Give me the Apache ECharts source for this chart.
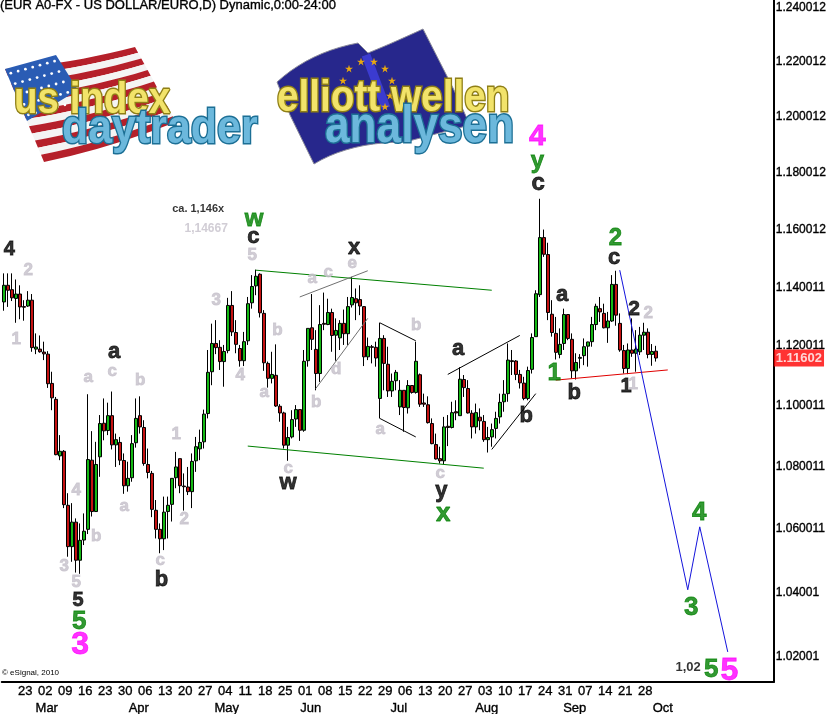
<!DOCTYPE html>
<html><head><meta charset="utf-8">
<style>html,body{margin:0;padding:0;background:#fff}#c{width:830px;height:714px}</style>
<script src="https://cdn.jsdelivr.net/npm/echarts@6/dist/echarts.min.js"></script>
</head><body><div id="c"></div>
<script>
const opens=[1.1350,1.1407,1.1392,1.1362,1.1377,1.1334,1.1336,1.1356,1.1190,1.1190,
1.1180,1.1173,1.1075,1.1022,1.0836,1.0851,1.0676,1.0544,1.0622,1.0501,
1.0565,1.0599,1.0822,1.0656,1.0833,1.0943,1.0919,1.0968,1.0872,1.0880,
1.0821,1.0739,1.0765,1.0879,1.0968,1.0929,1.0808,1.0779,1.0660,1.0599,
1.0569,1.0656,1.0679,1.0765,1.0827,1.0738,1.0735,1.0720,1.0820,1.0859,
1.0882,1.0975,1.1114,1.1209,1.1196,1.1148,1.1185,1.1338,1.1246,1.1192,
1.1151,1.1218,1.1347,1.1405,1.1445,1.1311,1.1142,1.1092,1.1102,1.0999,
1.0977,1.0871,1.0898,1.0957,1.0988,1.0920,1.1151,1.1262,1.1189,1.1108,
1.1277,1.1273,1.1314,1.1237,1.1228,1.1277,1.1242,1.1340,1.1361,1.1358,
1.1334,1.1164,1.1198,1.1196,1.1025,1.1226,1.1139,1.1050,1.1084,1.0997,
1.1052,1.0994,1.1068,1.1045,1.1104,1.1010,1.1004,1.0942,1.0873,1.0827,
1.0820,1.0933,1.0929,1.0981,1.0968,1.1088,1.1058,1.0976,1.0931,1.0963,
1.0949,1.0889,1.0898,1.0926,1.0964,1.1014,1.1041,1.1151,1.1150,1.1105,
1.1076,1.1025,1.1122,1.1232,1.1375,1.1572,1.1513,1.1308,1.1243,1.1172,
1.1209,1.1307,1.1223,1.1117,1.1159,1.1168,1.1200,1.1215,1.1273,1.1327,
1.1311,1.1262,1.1285,1.1410,1.1277,1.1185,1.1125,1.1187,1.1176,1.1181,
1.1237,1.1247,1.1172,1.1183];
const closes=[1.1407,1.1390,1.1364,1.1377,1.1333,1.1332,1.1356,1.1195,1.1197,1.1181,
1.1174,1.1074,1.1027,1.0840,1.0851,1.0678,1.0544,1.0622,1.0501,1.0564,
1.0593,1.0824,1.0656,1.0808,1.0942,1.0918,1.0968,1.0872,1.0889,1.0822,
1.0739,1.0763,1.0876,1.0959,1.0931,1.0811,1.0782,1.0663,1.0599,1.0569,
1.0654,1.0676,1.0763,1.0800,1.0739,1.0736,1.0720,1.0818,1.0866,1.0880,
1.0973,1.1112,1.1209,1.1195,1.1148,1.1182,1.1338,1.1248,1.1206,1.1151,
1.1215,1.1344,1.1403,1.1438,1.1313,1.1144,1.1092,1.1105,1.1000,1.0977,
1.0871,1.0896,1.0955,1.0988,1.0920,1.1149,1.1260,1.1223,1.1108,1.1273,
1.1274,1.1314,1.1236,1.1253,1.1277,1.1242,1.1334,1.1365,1.1347,1.1336,
1.1164,1.1199,1.1196,1.1160,1.1226,1.1142,1.1050,1.1082,1.1112,1.1052,
1.0995,1.1068,1.1045,1.1149,1.1006,1.1006,1.0945,1.0876,1.0826,1.0820,
1.0931,1.0929,1.0978,1.0977,1.1089,1.1061,1.0977,1.0931,1.0978,1.0951,
1.0889,1.0896,1.0922,1.0959,1.1012,1.1039,1.1153,1.1148,1.1105,1.1077,
1.1025,1.1118,1.1229,1.1378,1.1572,1.1514,1.1314,1.1246,1.1179,1.1206,
1.1307,1.1226,1.1117,1.1145,1.1162,1.1198,1.1214,1.1273,1.1335,1.1316,
1.1262,1.1285,1.1410,1.1305,1.1187,1.1125,1.1187,1.1176,1.1190,1.1237,
1.1247,1.1172,1.1182,1.1160];
const lows=[1.1320,1.1333,1.1353,1.1279,1.1291,1.1286,1.1333,1.1181,1.1173,1.1178,
1.1153,1.1060,1.0986,1.0838,1.0822,1.0667,1.0512,1.0496,1.0462,1.0458,
1.0549,1.0584,1.0640,1.0656,1.0768,1.0887,1.0904,1.0857,1.0800,1.0806,
1.0713,1.0720,1.0752,1.0863,1.0909,1.0804,1.0763,1.0638,1.0570,1.0523,
1.0533,1.0570,1.0624,1.0731,1.0715,1.0659,1.0709,1.0667,1.0784,1.0822,
1.0860,1.0959,1.1069,1.1173,1.1120,1.1064,1.1176,1.1234,1.1176,1.1131,
1.1133,1.1204,1.1327,1.1373,1.1297,1.1117,1.1061,1.1075,1.0997,1.0948,
1.0860,1.0820,1.0893,1.0931,1.0885,1.0915,1.1131,1.1187,1.1052,1.1080,
1.1254,1.1271,1.1181,1.1151,1.1187,1.1204,1.1204,1.1331,1.1288,1.1305,
1.1133,1.1153,1.1142,1.1131,1.0959,1.1052,1.1030,1.1030,1.1052,1.0970,
1.0915,1.0975,1.1041,1.1041,1.0997,1.0997,1.0942,1.0874,1.0824,1.0811,
1.0808,1.0868,1.0926,1.0953,1.0968,1.1030,1.0975,1.0893,1.0909,1.0920,
1.0882,1.0847,1.0866,1.0893,1.0942,1.0981,1.1014,1.1103,1.1086,1.1058,
1.1019,1.1019,1.1108,1.1232,1.1367,1.1505,1.1288,1.1232,1.1155,1.1159,
1.1187,1.1220,1.1092,1.1088,1.1125,1.1136,1.1131,1.1198,1.1254,1.1282,
1.1260,1.1211,1.1282,1.1269,1.1181,1.1108,1.1106,1.1164,1.1114,1.1170,
1.1187,1.1159,1.1134,1.1148];
const highs=[1.1448,1.1448,1.1448,1.1427,1.1407,1.1356,1.1387,1.1377,1.1243,1.1236,
1.1215,1.1183,1.1114,1.1030,1.0904,1.0855,1.0715,1.0683,1.0634,1.0618,
1.0650,1.1039,1.0917,1.0882,1.0970,1.1025,1.1011,1.1048,1.0909,1.0898,
1.0844,1.0817,1.0904,1.1025,1.1032,1.0953,1.0860,1.0787,1.0693,1.0618,
1.0704,1.0704,1.0763,1.0849,1.0827,1.0779,1.0800,1.0844,1.0898,1.0922,
1.0988,1.1187,1.1276,1.1288,1.1220,1.1204,1.1364,1.1387,1.1288,1.1204,
1.1248,1.1367,1.1442,1.1461,1.1448,1.1322,1.1148,1.1181,1.1206,1.1006,
1.0981,1.0931,1.0986,1.1003,1.0988,1.1187,1.1260,1.1377,1.1254,1.1339,
1.1382,1.1361,1.1327,1.1294,1.1288,1.1324,1.1367,1.1436,1.1396,1.1407,
1.1336,1.1229,1.1204,1.1215,1.1279,1.1237,1.1198,1.1108,1.1120,1.1086,
1.1052,1.1086,1.1069,1.1215,1.1108,1.1041,1.1032,1.0959,1.0909,1.0866,
1.0964,1.0970,1.1014,1.1019,1.1129,1.1103,1.1086,1.0986,1.1008,1.0992,
1.0970,1.0931,1.0942,1.0981,1.1041,1.1086,1.1209,1.1187,1.1153,1.1120,
1.1097,1.1131,1.1243,1.1390,1.1708,1.1600,1.1554,1.1356,1.1299,1.1260,
1.1327,1.1307,1.1243,1.1176,1.1173,1.1226,1.1215,1.1299,1.1344,1.1367,
1.1344,1.1316,1.1442,1.1457,1.1311,1.1204,1.1209,1.1294,1.1254,1.1265,
1.1279,1.1260,1.1207,1.1201];

const yTickLabels=['1.240012','1.220012','1.200012','1.180012','1.160012','1.140011','1.120011','1.100011','1.080011','1.060011','1.04001','1.02001'];
const weekLabels=['23','02','09','16','23','30','06','13','20','27','04','11','18','25','01','08','15','22','29','06','13','20','27','03','10','17','24','31','07','14','21','28'];
const monthLabels=['Mar','Apr','May','Jun','Jul','Aug','Sep','Oct'];
const monthStartIdx=[9,32,54,75,97,119,141,163];
const firstWeekIdx=5, slotCount=193, priceMin=1.0123, priceMax=1.24299, lastPrice='1.11602';

// trend lines: [day index, price]
const greenLines=[[[63,1.1459],[122,1.1390]],[[61,1.0868],[120,1.0796]]];
const greyLines=[[[74,1.1367],[91,1.1457]],[[78,1.1058],[91,1.1294]]];
const blackLines=[[[94,1.1279],[103,1.1218]],[[94,1.0959],[103,1.0898]],[[111,1.1105],[129,1.1236]],[[122,1.0857],[133,1.1041]]];
const redLines=[[[138,1.1086],[166,1.1120]]];
const blueForecast=[[[154,1.1459],[171,1.0408],[174,1.0607],[181,1.0215]]];

// wave labels: [text, day index, price, font size]
const blackLabels=[['4',1.4,1.1532,20],['a',27.6,1.1180,22],['5',18.6,1.0373,20],['b',39.4,1.0439,22],['c',62.4,1.1574,22],['w',71.1,1.0748,22],['x',87.6,1.1536,22],['a',113.6,1.1190,22],['y',109.4,1.0722,22],['b',130.6,1.0966,22],['c',133.6,1.1764,24],['a',139.6,1.1373,22],['b',142.6,1.1042,22],['c',152.6,1.1501,22],['2',157.6,1.1325,21],['1',155.6,1.1066,20],['ca. 1,146x',48.6,1.1672,11],['1,02',171.1,1.0169,13]];
const greyLabels=[['2',6.1,1.1459,17],['1',3.1,1.1224,17],['a',21.1,1.1096,17],['c',27.1,1.1116,17],['b',34.1,1.1086,17],['4',18.1,1.0725,17],['a',30.1,1.0674,17],['b',23.1,1.0578,17],['3',15.1,1.0483,17],['5',18.1,1.0430,17],['c',39.1,1.0502,17],['1',43.1,1.0907,17],['2',45.1,1.0632,17],['3',53.1,1.1356,17],['4',59.1,1.1103,17],['a',65.1,1.1046,17],['b',68.4,1.1254,17],['5',62.1,1.1512,17],['c',71.1,1.0796,17],['a',77.1,1.1431,17],['c',81.1,1.1452,17],['e',87.1,1.1484,17],['d',83.1,1.1123,17],['b',78.1,1.1012,17],['b',103.1,1.1271,17],['a',94.1,1.0923,17],['c',109.1,1.0780,17],['2',161.1,1.1311,17],['1',157.4,1.1073,17],['1,14667',50.6,1.1602,12]];
const greenLabels=[['w',62.6,1.1637,24],['5',18.9,1.0308,26],['x',109.9,1.0648,26],['y',133.4,1.1842,24],['1',137.6,1.1110,24],['2',152.9,1.1570,24],['4',173.9,1.0652,26],['3',171.9,1.0352,26],['5',176.9,1.0161,26]];
const magentaLabels=[['3',19.1,1.0237,32],['4',133.4,1.1928,30],['5',181.4,1.0157,32]];

const categories=[];
{let d=new Date(Date.UTC(2010,1,16));
 while(categories.length<slotCount){const w=d.getUTCDay();if(w>0&&w<6)categories.push(d.toISOString().slice(0,10));d=new Date(d.getTime()+864e5);}}
const candles=opens.map((o,i)=>[o,closes[i],lows[i],highs[i]]);
const SANS='"Liberation Sans",Arial,sans-serif';

function lineSeries(list,color,width){return list.map(pts=>({type:'line',xAxisIndex:2,data:pts,symbol:'none',silent:true,clip:false,z:4,lineStyle:{color,width},animation:false}));}
function labelSeries(list,color){return {type:'scatter',xAxisIndex:2,symbolSize:0,silent:true,clip:false,z:6,
 data:list.map(r=>({value:[r[1],r[2]],label:{show:true,position:'inside',formatter:r[0],fontSize:r[3],color,fontWeight:'bold',fontFamily:SANS,
   textBorderColor:color,textBorderWidth:r[3]>14?0.8:0}}))};}

// logos
const logo=[];
function curve(p,c,q){const o=[];for(let t=0;t<=1.0001;t+=.1){const u=1-t;o.push([u*u*p[0]+2*u*t*c[0]+t*t*q[0],u*u*p[1]+2*u*t*c[1]+t*t*q[1]]);}return o;}
for(let k=0;k<13;k++){
 const L=t=>[5+39*t,69+93*t],R=t=>[135+41*t,47+75*t],a=k/13,b=(k+1)/13;
 const l0=L(a),r0=R(a),l1=L(b),r1=R(b);
 const top=curve(l0,[(l0[0]+r0[0])/2,(l0[1]+r0[1])/2+6],r0),bot=curve(l1,[(l1[0]+r1[0])/2,(l1[1]+r1[1])/2+6],r1).reverse();
 logo.push({type:'polygon',silent:true,shape:{points:top.concat(bot)},style:{fill:k%2?'#f4f4f4':'#b5202a'}});
}
logo.push({type:'polygon',silent:true,shape:{points:[[5,69],[56,55],[78,90],[27,121]]},style:{fill:'#2a5cb4'}});
for(let r=0;r<5;r++)for(let c=0;c<7;c++){
 const u=(c+.5)/7,v=(r+.5)/5;
 logo.push({type:'circle',silent:true,shape:{cx:5+51*u+22*v,cy:69-14*u+52*v,r:1.4},style:{fill:'#fff'}});
}
logo.push({type:'polygon',silent:true,shape:{points:[[277,82],...curve([277,82],[310,52],[358,43]),[368,53],...curve([368,53],[395,42],[423,29]),[453,88],[470,125],[405,142],...curve([405,142],[350,142],[314,164]),[290,115]]},style:{fill:'#27278c',stroke:'#8a8a9a',lineWidth:1}});
logo.push({type:'line',silent:true,shape:{x1:366,y1:55,x2:386,y2:108},style:{stroke:'#3b3bd0',lineWidth:9}});
[[349,69],[361,62],[374,62],[385,69],[392,81],[390,96],[385,107],[343,81]].forEach(p=>{
 const pts=[];for(let i=0;i<10;i++){const r=i%2?1.6:4.2,t=-Math.PI/2+i*Math.PI/5;pts.push([p[0]+r*Math.cos(t),p[1]+r*Math.sin(t)]);}
 logo.push({type:'polygon',silent:true,shape:{points:pts},style:{fill:'#eaa90f'}});
});
const logoFont=s=>`bold ${s}px "Liberation Sans",sans-serif`;
const logoText=(t,x,y,size,fill,stroke,scale)=>({type:'text',silent:true,x,y,scaleX:scale,style:{text:t,font:logoFont(size),fill,stroke,lineWidth:3,textAlign:'left',textVerticalAlign:'middle'}});
logo.push(logoText('us index',14,101,44,'#f2e36a','#8f7f16',0.875));
logo.push(logoText('daytrader',62,130,48,'#6cb8dc','#1c6f95',0.894));
logo.push(logoText('elliott wellen',277,99,44,'#f2e36a','#8f7f16',0.88));
logo.push(logoText('analysen',325,128,52,'#6cb8dc','#1c6f95',0.85));
logo.push({type:'text',silent:true,x:2,y:673,style:{text:'© eSignal, 2010',font:'8px '+SANS,fill:'#000',textVerticalAlign:'middle'}});

const chart=echarts.init(document.getElementById('c'),null,{renderer:'canvas'});
const heavy={textBorderColor:'#000',textBorderWidth:0.35};
chart.setOption({
 animation:false,backgroundColor:'#fff',
 title:{text:'(EUR A0-FX - US DOLLAR/EURO,D) Dynamic,0:00-24:00',left:0,top:-1,textStyle:{fontFamily:SANS,fontSize:13,fontWeight:'normal',color:'#000',...heavy},padding:[0,0,0,0]},
 grid:{left:1.75,width:772,top:0,bottom:32,containLabel:false,outerBoundsMode:'none'},
 tooltip:{show:false},
 graphic:{elements:logo},
 xAxis:[
  {type:'category',data:categories,position:'bottom',boundaryGap:true,
   axisLine:{show:true,lineStyle:{color:'#000',width:2},onZero:false},axisTick:{show:false},splitLine:{show:false},
   axisLabel:{margin:2,color:'#000',fontFamily:SANS,fontSize:13,lineHeight:14,padding:[0,0,0,3],hideOverlap:false,...heavy,
    interval:(i)=>i>=firstWeekIdx&&(i-firstWeekIdx)%5===0&&(i-firstWeekIdx)/5<weekLabels.length,
    formatter:(v,i)=>weekLabels[(i-firstWeekIdx)/5]}},
  {type:'category',data:categories,position:'bottom',offset:17,boundaryGap:true,
   axisLine:{show:false},axisTick:{show:false},splitLine:{show:false},
   axisLabel:{margin:2,color:'#000',fontFamily:SANS,fontSize:13,lineHeight:14,padding:[0,0,0,14],hideOverlap:false,...heavy,
    interval:(i)=>monthStartIdx.includes(i),
    formatter:(v,i)=>monthLabels[monthStartIdx.indexOf(i)]}},
  {type:'value',show:false,min:-0.5,max:slotCount-0.5,splitLine:{show:false}}
 ],
 yAxis:{type:'log',logBase:Math.E,position:'right',min:priceMin,max:priceMax,
  axisLine:{show:true,lineStyle:{color:'#000',width:2},onZero:false},axisTick:{show:false},splitLine:{show:false},minorTick:{show:false},minorSplitLine:{show:false},
  axisLabel:{show:true,margin:2,color:'#000',fontFamily:SANS,fontSize:12,showMinLabel:true,showMaxLabel:true,hideOverlap:false,...heavy,
   customValues:yTickLabels.map(Number),
   formatter:(v)=>{let b=yTickLabels[0],d=1e9;yTickLabels.forEach(s=>{const e=Math.abs(Number(s)-v);if(e<d){d=e;b=s;}});return b;}}},
 series:[
  {type:'candlestick',xAxisIndex:0,data:candles,barWidth:3,z:3,silent:true,clip:false,
   itemStyle:{color:'#14b814',color0:'#c41212',borderColor:'#000',borderColor0:'#000',borderColorDoji:'#000',borderWidth:1}},
  ...lineSeries(greenLines,'#008000',1),
  ...lineSeries(greyLines,'#707070',1),
  ...lineSeries(blackLines,'#000',1),
  ...lineSeries(redLines,'#e00000',1),
  ...lineSeries(blueForecast,'#1414dc',1),
  labelSeries(greyLabels,'#c6c0ca'),
  labelSeries(blackLabels,'#000'),
  labelSeries(greenLabels,'#008000'),
  labelSeries(magentaLabels,'#ff00ff'),
  {type:'scatter',xAxisIndex:2,symbolSize:0,silent:true,clip:false,z:8,data:[[slotCount-0.5,Number(lastPrice)]],
   label:{show:true,position:'right',distance:0,formatter:lastPrice,color:'#fff',fontWeight:'bold',fontFamily:SANS,fontSize:13,backgroundColor:'#ff0000',padding:[2,2,2,2]}}
 ]
});
</script></body></html>
